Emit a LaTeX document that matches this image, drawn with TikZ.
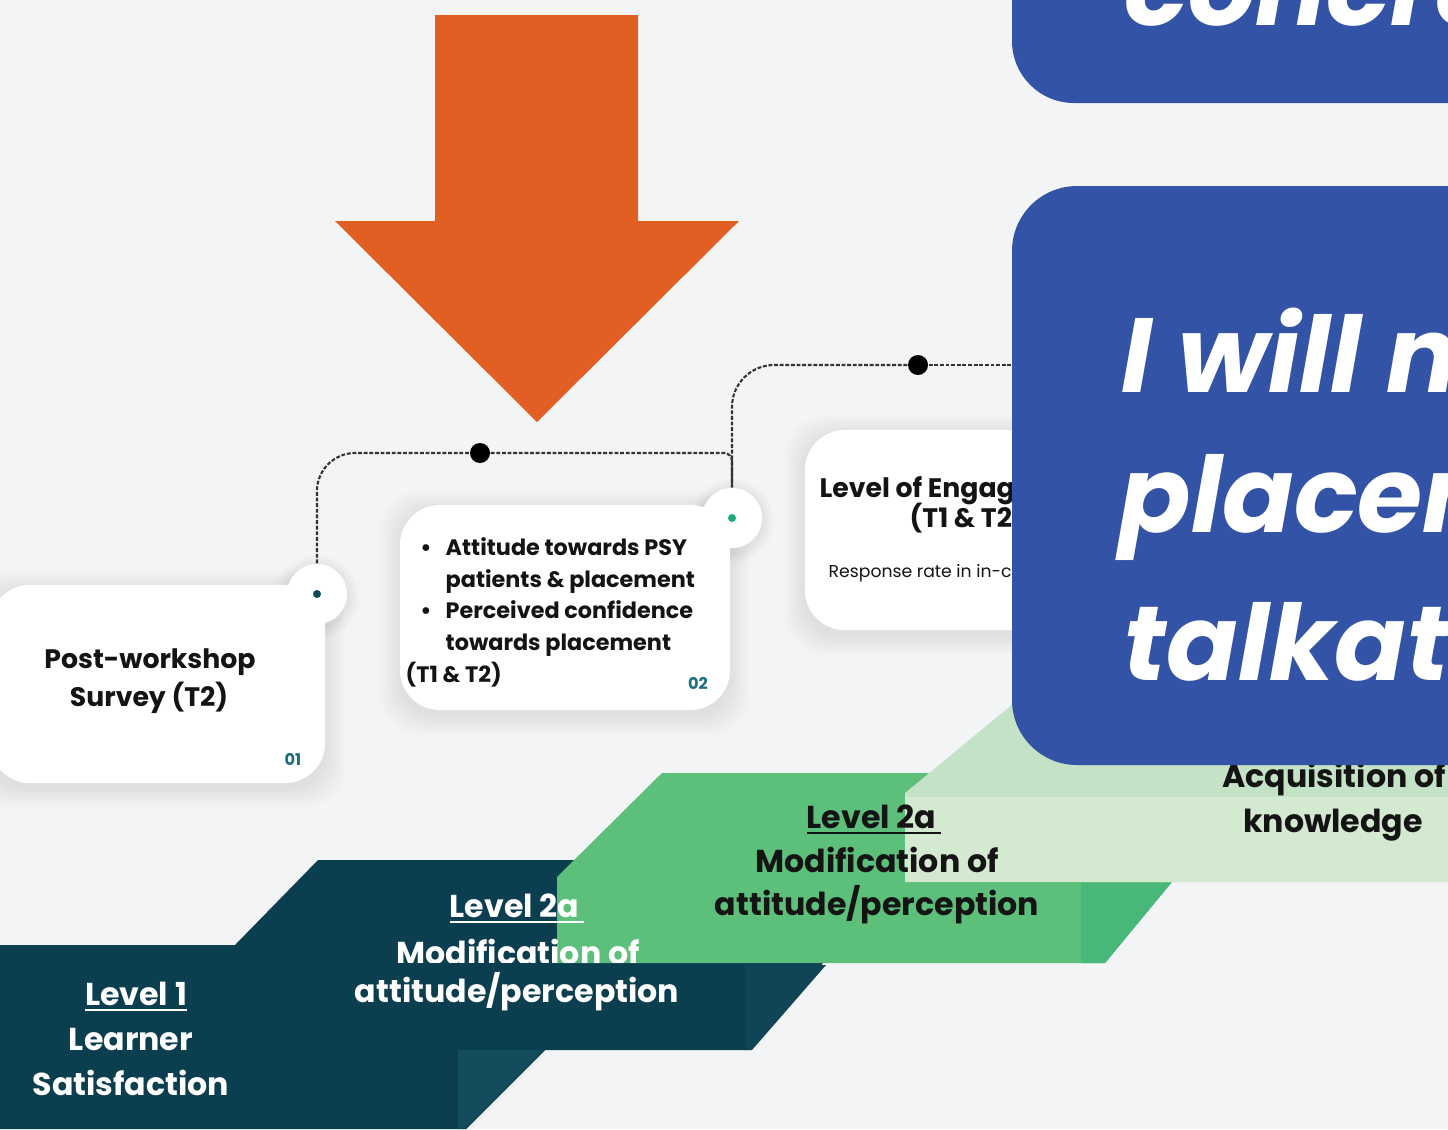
\documentclass[tikz,border=0pt]{standalone}
\usepackage{fontspec}
\setmainfont{Poppins}
\definecolor{bg}{HTML}{F3F4F6}
\definecolor{orng}{HTML}{E25F23}
\definecolor{bluebx}{HTML}{3253A6}
\definecolor{dkteal}{HTML}{0B3E4F}
\definecolor{dkteal2}{HTML}{134C5A}
\definecolor{dkteal3}{HTML}{0F4554}
\definecolor{grn}{HTML}{5CBF7A}
\definecolor{grn2}{HTML}{47B77A}
\definecolor{lgrn}{HTML}{C3E2C6}
\definecolor{lgrn2}{HTML}{D4EAD0}
\definecolor{numteal}{HTML}{1F6E80}
\definecolor{dotteal}{HTML}{0E4A5C}
\definecolor{dotgrn}{HTML}{1EAA80}
\definecolor{txt}{HTML}{141414}
\newcommand\softshadow[5]{%
  \foreach \s in {2,4,...,20}{%
    \fill[black,opacity=0.009,rounded corners=#5] ({#1-\s},{#2-\s+5}) rectangle ({#3+\s},{#4+\s+5});}}
\begin{document}
\begin{tikzpicture}[x=0.01cm,y=-0.01cm,
  card/.style={fill=white, rounded corners=0.4cm, inner sep=0pt},
  notch/.style={circle, fill=white, inner sep=0pt, minimum size=0.6cm},
  dot/.style={circle, fill=black, inner sep=0pt, minimum size=0.2cm},
  tinydot/.style={circle, inner sep=0pt, minimum size=0.08cm},
  conn/.style={draw=black!80, line width=0.6pt, dash pattern=on 1.1pt off 0.5pt},
  cardtxt/.style={inner sep=0pt, anchor=base, font=\bfseries\fontsize{7.6}{10}\selectfont, text=txt},
  bultxt/.style={inner sep=0pt, anchor=base west, font=\bfseries\fontsize{6.35}{9}\selectfont, text=txt},
  num/.style={inner sep=0pt, anchor=base, font=\bfseries\fontsize{4.6}{6}\selectfont, text=numteal},
  steptxt/.style={inner sep=0pt, anchor=base, font=\bfseries\fontsize{9}{12}\selectfont},
  bigtxt/.style={inner sep=0pt, anchor=base west, text=white, font=\bfseries\itshape\fontsize{30}{40}\selectfont},
]
\useasboundingbox (0,0) rectangle (1448,1129);
\fill[bg] (0,0) rectangle (1448,1129);
\clip (0,0) rectangle (1448,1129);

% orange arrow
\fill[orng] (435,15) -- (638,15) -- (638,221) -- (739,221) -- (537,422) -- (335,221) -- (435,221) -- cycle;

% card shadows
\softshadow{-10}{585}{325}{783}{0.4cm}
\softshadow{400}{505}{730}{710}{0.4cm}
\softshadow{805}{430}{1090}{630}{0.4cm}
\foreach \s in {2,4,...,12}{\fill[black,opacity=0.01] (317,597) circle[radius={30+\s}];}
\foreach \s in {2,4,...,12}{\fill[black,opacity=0.01] (732,521) circle[radius={30+\s}];}

% cards
\node[card, minimum width=3.35cm, minimum height=1.98cm] (c1) at (157.5,684) {};
\node[card, minimum width=3.30cm, minimum height=2.05cm] (c2) at (565,607.5) {};
\node[card, minimum width=2.85cm, minimum height=2.00cm] (c3) at (947.5,530) {};
\node[notch] (n1) at (317,594) {};
\node[notch] (n2) at (732,518) {};
\node[tinydot, fill=dotteal] (k1) at (317,594) {};
\node[tinydot, fill=dotgrn] (k2) at (732,518) {};

% connectors
\node[dot] (d1) at (480,453) {};
\node[dot] (d2) at (918,365) {};
\coordinate (e2) at (1015,365);
\draw[conn, rounded corners=0.38cm] (n1.north) |- (d1);
\draw[conn, rounded corners=0.08cm] (d1) -| (n2.north);
\draw[conn, rounded corners=0.42cm] (n2.north) |- (d2);
\draw[conn] (d2) -- (e2);

% card texts
\node[cardtxt] (c1a) at (150,668) {Post-workshop};
\node[cardtxt] (c1b) at (149,706) {Survey (T2)};
\node[num] (c1n) at (293,765) {01};
\node[bultxt] (c2a) at (445,555) {\llap{\textbullet\hspace{4pt}}Attitude towards PSY};
\node[bultxt] (c2b) at (445,587) {patients \& placement};
\node[bultxt] (c2c) at (445,618) {\llap{\textbullet\hspace{4pt}}Perceived confidence};
\node[bultxt] (c2d) at (445,650) {towards placement};
\node[bultxt] (c2e) at (405,682) {(T1 \& T2)};
\node[num] (c2n) at (698,689) {02};
\node[cardtxt, anchor=base west] (c3a) at (819,497) {Level of Engagement};
\node[cardtxt, anchor=base west] (c3b) at (909,527) {(T1 \& T2)};
\node[inner sep=0pt, anchor=base west, font=\fontsize{4.9}{6}\selectfont, text=txt] (c3c) at (828,577) {Response rate in in-class activities};

% steps: dark teal
\fill[dkteal] (0,945) -- (235,945) -- (318,860) -- (912,860) -- (748,1050) -- (545,1050) -- (466,1129) -- (0,1129) -- cycle;
\fill[dkteal2] (458,1050) -- (545,1050) -- (466,1129) -- (458,1129) -- cycle;
\fill[dkteal3] (745,965) -- (826,965) -- (752,1050) -- (745,1050) -- cycle;
% green
\fill[grn] (662,773) -- (1262,773) -- (1105,963) -- (557,963) -- (557,877) -- cycle;
\fill[grn2] (1081,883) -- (1171,883) -- (1105,963) -- (1081,963) -- cycle;
% light green
\fill[lgrn] (1042,680) -- (1460,680) -- (1460,882) -- (905,882) -- (905,793) -- cycle;
\fill[lgrn2] (905,797) -- (1460,797) -- (1460,882) -- (905,882) -- cycle;

% step texts
\node[steptxt, text=white] (l1a) at (136,1005) {\underline{Level 1}};
\node[steptxt, text=white] (l1b) at (131,1050) {Learner};
\node[steptxt, text=white] (l1c) at (131,1095) {Satisfaction};
\node[steptxt, text=white] (l2a) at (517,917) {\underline{Level 2a\,}};
\begin{scope}
\clip (300,900) rectangle (700,962);
\node[steptxt, text=white] (l2b) at (518,964) {Modification of};
\end{scope}
\node[steptxt, text=white] (l2c) at (517,1002) {attitude/perception};
\node[steptxt, text=txt] (g2a) at (874,828) {\underline{Level 2a\,}};
\node[steptxt, text=txt] (g2b) at (877,872) {Modification of};
\node[steptxt, text=txt] (g2c) at (877,915) {attitude/perception};
\node[steptxt, text=txt] (kq1) at (1334,787) {Acquisition of};
\node[steptxt, text=txt] (kq2) at (1333,832) {knowledge};

% blue boxes
\fill[bluebx, rounded corners=0.62cm] (1012,-300) rectangle (1800,103);
\fill[bluebx, rounded corners=0.65cm] (1012,186) rectangle (1800,765);
\node[bigtxt] (q0) at (1124,25) {concrete};
\node[bigtxt] (q1) at (1121,392) {I will not};
\node[bigtxt] (q2) at (1119,532) {placement};
\node[bigtxt] (q3) at (1123,680) {talkative};
\end{tikzpicture}
\end{document}
